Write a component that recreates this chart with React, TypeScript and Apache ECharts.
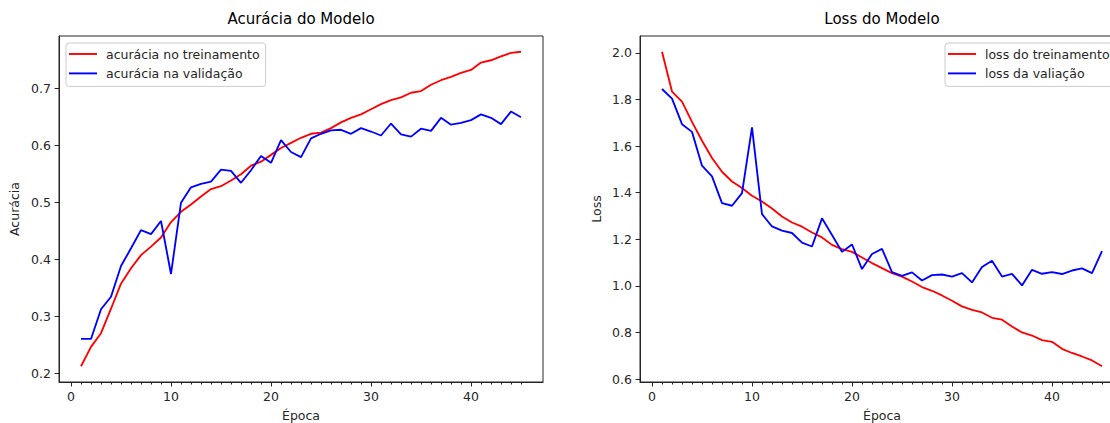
import { useEffect, useRef } from "react";
import * as echarts from "echarts";

const epochs = [1, 2, 3, 4, 5, 6, 7, 8, 9, 10, 11, 12, 13, 14, 15, 16, 17, 18, 19, 20, 21, 22, 23, 24, 25, 26, 27, 28, 29, 30, 31, 32, 33, 34, 35, 36, 37, 38, 39, 40, 41, 42, 43, 44, 45];

const accTrain = [0.212, 0.246, 0.270, 0.313, 0.357, 0.384, 0.407, 0.422, 0.438, 0.465, 0.483, 0.496, 0.510, 0.523, 0.528, 0.538, 0.549, 0.564, 0.571, 0.583, 0.595, 0.604, 0.613, 0.620, 0.622, 0.630, 0.640, 0.648, 0.654, 0.663, 0.672, 0.679, 0.684, 0.692, 0.695, 0.706, 0.714, 0.720, 0.727, 0.732, 0.745, 0.749, 0.756, 0.762, 0.764];
const accVal = [0.260, 0.260, 0.312, 0.334, 0.388, 0.419, 0.451, 0.444, 0.467, 0.374, 0.499, 0.526, 0.532, 0.536, 0.557, 0.555, 0.534, 0.556, 0.581, 0.569, 0.609, 0.588, 0.579, 0.612, 0.620, 0.626, 0.627, 0.620, 0.630, 0.624, 0.617, 0.638, 0.619, 0.615, 0.629, 0.625, 0.648, 0.636, 0.639, 0.644, 0.654, 0.648, 0.637, 0.659, 0.649];
const lossTrain = [2.005, 1.834, 1.791, 1.704, 1.623, 1.549, 1.490, 1.448, 1.420, 1.387, 1.362, 1.332, 1.298, 1.272, 1.254, 1.229, 1.208, 1.176, 1.158, 1.146, 1.122, 1.098, 1.076, 1.055, 1.040, 1.019, 0.995, 0.979, 0.959, 0.936, 0.912, 0.897, 0.886, 0.863, 0.855, 0.826, 0.800, 0.787, 0.767, 0.760, 0.730, 0.712, 0.697, 0.680, 0.655];
const lossVal = [1.845, 1.804, 1.694, 1.661, 1.516, 1.470, 1.355, 1.344, 1.398, 1.680, 1.308, 1.255, 1.237, 1.227, 1.186, 1.169, 1.290, 1.218, 1.146, 1.178, 1.072, 1.137, 1.159, 1.059, 1.043, 1.058, 1.023, 1.046, 1.049, 1.040, 1.055, 1.015, 1.081, 1.108, 1.040, 1.052, 1.002, 1.069, 1.052, 1.059, 1.051, 1.066, 1.075, 1.055, 1.149];

const epochTicks = [0, 10, 20, 30, 40];
const epochMinorTicks = [0, 1, 2, 3, 4, 5, 6, 7, 8, 9, 10, 11, 12, 13, 14, 15, 16, 17, 18, 19, 20, 21, 22, 23, 24, 25, 26, 27, 28, 29, 30, 31, 32, 33, 34, 35, 36, 37, 38, 39, 40, 41, 42, 43, 44, 45];
const accTicks = [0.2, 0.3, 0.4, 0.5, 0.6, 0.7];
const lossTicks = [0.6, 0.8, 1.0, 1.2, 1.4, 1.6, 1.8, 2.0];

const titles = ["Acurácia do Modelo", "Loss do Modelo"];
const yNames = ["Acurácia", "Loss"];
const xName = "Época";
const accNames = ["acurácia no treinamento", "acurácia na validação"];
const lossNames = ["loss do treinamento", "loss da valiação"];

const FONT = "DejaVu Sans";
const TXT = "#262626";
const FS = 12.5;

function padded(arrs: number[][]): [number, number] {
  const all = arrs.flat();
  const lo = Math.min(...all);
  const hi = Math.max(...all);
  const p = (hi - lo) * 0.05;
  return [lo - p, hi + p];
}

export default function App() {
  const ref = useRef<HTMLDivElement>(null);
  useEffect(() => {
    const chart = echarts.init(ref.current!, null, { renderer: "svg" });
    const [xMin, xMax] = padded([epochs]);
    const [aMin, aMax] = padded([accTrain, accVal]);
    const [lMin, lMax] = padded([lossTrain, lossVal]);

    const grids = [
      { left: 59, top: 36, width: 484, height: 346 },
      { left: 640, top: 36, width: 484, height: 346 },
    ];

    const mainX = (gi: number) => ({
      type: "value",
      gridIndex: gi,
      position: "bottom",
      min: xMin,
      max: xMax,
      axisLine: { show: true, onZero: false, lineStyle: { color: TXT, width: 1 } },
      axisTick: { show: true, length: 4.4, customValues: epochTicks, lineStyle: { color: TXT, width: 1 } },
      axisLabel: {
        customValues: epochTicks,
        fontSize: FS,
        fontFamily: FONT,
        color: TXT,
        margin: 8,
        formatter: (v: number) => String(Math.round(v)),
      },
      splitLine: { show: false },
      name: xName,
      nameLocation: "middle",
      nameGap: 27,
      nameMoveOverlap: false,
      nameTextStyle: { fontSize: FS, fontFamily: FONT, color: TXT },
    });
    const minorX = (gi: number) => ({
      type: "value",
      gridIndex: gi,
      position: "bottom",
      min: xMin,
      max: xMax,
      axisLine: { show: false, onZero: false },
      axisTick: { show: true, length: 2.5, customValues: epochMinorTicks, lineStyle: { color: TXT, width: 1 } },
      axisLabel: { show: false },
      splitLine: { show: false },
    });
    const yAx = (gi: number, min: number, max: number, ticks: number[], name: string, gap: number) => ({
      type: "value",
      gridIndex: gi,
      min,
      max,
      axisLine: { show: true, onZero: false, lineStyle: { color: TXT, width: 1 } },
      axisTick: { show: true, length: 4.4, customValues: ticks, lineStyle: { color: TXT, width: 1 } },
      axisLabel: {
        customValues: ticks,
        fontSize: FS,
        fontFamily: FONT,
        color: TXT,
        margin: 8,
        formatter: (v: number) => v.toFixed(1),
      },
      splitLine: { show: false },
      name,
      nameLocation: "middle",
      nameGap: gap,
      nameRotate: 90,
      nameMoveOverlap: false,
      nameTextStyle: { fontSize: FS, fontFamily: FONT, color: TXT },
    });

    const line = (name: string, xi: number, yi: number, vals: number[], color: string) => ({
      type: "line",
      name,
      xAxisIndex: xi,
      yAxisIndex: yi,
      data: epochs.map((e, i) => [e, vals[i]]),
      showSymbol: false,
      symbol: "none",
      silent: true,
      color,
      lineStyle: { color, width: 1.85 },
      itemStyle: { color },
    });

    const legend = (names: string[], left: number) => ({
      data: names,
      left,
      top: 43,
      orient: "vertical",
      icon: "rect",
      itemWidth: 28,
      itemHeight: 1.9,
      itemGap: 4.4,
      padding: [3.5, 6, 5.5, 3],
      backgroundColor: "rgba(255,255,255,0.8)",
      borderColor: "#cccccc",
      borderWidth: 1,
      borderRadius: 3,
      selectedMode: false,
      textStyle: { fontSize: FS, fontFamily: FONT, color: TXT, lineHeight: 15, padding: [0, 0, 0, 4] },
    });

    chart.setOption({
      animation: false,
      backgroundColor: "#ffffff",
      textStyle: { fontFamily: FONT },
      title: [
        { text: titles[0], left: 301, top: 11, textAlign: "center", padding: 0, textStyle: { fontSize: 15, fontWeight: "normal", fontFamily: FONT, color: "#000" } },
        { text: titles[1], left: 882, top: 11, textAlign: "center", padding: 0, textStyle: { fontSize: 15, fontWeight: "normal", fontFamily: FONT, color: "#000" } },
      ],
      grid: grids.map((g) => ({ ...g, show: true, borderColor: TXT, borderWidth: 1, backgroundColor: "transparent", containLabel: false, outerBoundsMode: "none" })),
      xAxis: [mainX(0), minorX(0), mainX(1), minorX(1)],
      yAxis: [yAx(0, aMin, aMax, accTicks, yNames[0], 38), yAx(1, lMin, lMax, lossTicks, yNames[1], 37)],
      legend: [legend(accNames, 66), legend(lossNames, 945)],
      series: [
        line(accNames[0], 0, 0, accTrain, "#ff0000"),
        line(accNames[1], 0, 0, accVal, "#0000ff"),
        line(lossNames[0], 2, 1, lossTrain, "#ff0000"),
        line(lossNames[1], 2, 1, lossVal, "#0000ff"),
      ],
    });
    return () => chart.dispose();
  }, []);
  return (
    <div
      ref={ref}
      style={{ position: "absolute", left: 0, top: 0, width: 1110, height: 423, background: "#fff" }}
    />
  );
}
